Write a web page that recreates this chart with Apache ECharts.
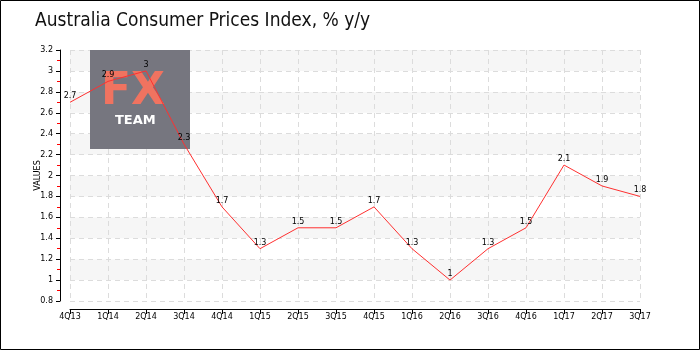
<!DOCTYPE html>
<html><head><meta charset="utf-8">
<script src="https://cdn.jsdelivr.net/npm/echarts@6/dist/echarts.min.js"></script>
<style>html,body{margin:0;padding:0;background:#fff}#c{width:700px;height:350px}</style>
</head><body><div id="c"></div>
<script>
const categories = ['4Q13','1Q14','2Q14','3Q14','4Q14','1Q15','2Q15','3Q15','4Q15','1Q16','2Q16','3Q16','4Q16','1Q17','2Q17','3Q17'];
const cpiValues = [2.7, 2.9, 3.0, 2.3, 1.7, 1.3, 1.5, 1.5, 1.7, 1.3, 1.0, 1.3, 1.5, 2.1, 1.9, 1.8];
const titleText = 'Australia Consumer Prices Index, % y/y';
const yAxisName = 'VALUES';

const chart = echarts.init(document.getElementById('c'), null, {renderer:'canvas'});
const F = 'DejaVu Sans';
chart.setOption({
  animation: false,
  backgroundColor: '#fff',
  title: {
    text: titleText, left: 30, top: 7,
    textStyle: {fontFamily: 'DejaVu Sans Condensed', fontWeight: 'normal', fontSize: 19, color: '#111'}
  },
  grid: {left: 70, right: 60, top: 50, bottom: 49, containLabel: false},
  graphic: [
    {type: 'rect', z: 100, silent: true, shape: {x: 0.5, y: 0.5, width: 699, height: 349},
     style: {fill: 'none', stroke: '#000', lineWidth: 1}},
    {type: 'rect', z: 1, silent: true, shape: {x: 90, y: 50, width: 100, height: 99},
     style: {fill: '#76767f'}},
    {type: 'text', z: 1, silent: true, left: 101, top: 71,
     style: {text: 'FX', fill: '#f07360', font: 'bold 44px "DejaVu Sans"'}},
    {type: 'text', z: 1, silent: true, left: 115, top: 114,
     style: {text: 'TEAM', fill: '#ffffff', font: 'bold 13px "DejaVu Sans"'}}
  ],
  xAxis: {
    type: 'category', data: categories, boundaryGap: false, offset: 8,
    axisLine: {lineStyle: {color: '#000', width: 1}},
    axisTick: {alignWithLabel: true, length: 5, lineStyle: {color: '#000'}},
    axisLabel: {fontFamily: F, fontSize: 8, color: '#000', margin: 4, interval: 0},
    splitLine: {show: true, lineStyle: {color: '#dcdcdc', type: [5, 4]}}
  },
  yAxis: {
    type: 'value', min: 0.8, max: 3.2, interval: 0.2, offset: 10,
    name: yAxisName, nameLocation: 'middle', nameGap: 18, nameRotate: 90, nameMoveOverlap: false,
    nameTextStyle: {fontFamily: F, fontSize: 8, color: '#000'},
    axisLine: {show: true, lineStyle: {color: '#000', width: 1}},
    axisTick: {show: true, length: 4, lineStyle: {color: '#000'}},
    minorTick: {show: true, splitNumber: 2, length: 3, lineStyle: {color: '#ff0000'}},
    axisLabel: {fontFamily: F, fontSize: 8, color: '#000', margin: 7,
      formatter: v => String(Math.round(v * 10) / 10)},
    splitLine: {show: true, lineStyle: {color: '#dcdcdc', type: [5, 4]}},
    splitArea: {show: true, areaStyle: {color: ['#ffffff', '#f6f6f6']}}
  },
  series: [{
    type: 'line', data: cpiValues, symbol: 'circle', symbolSize: 2, showSymbol: true, z: 3,
    itemStyle: {color: 'rgba(255,56,56,0)', borderWidth: 0},
    lineStyle: {color: '#ff3030', width: 1},
    label: {show: true, position: 'top', distance: 1, fontFamily: F, fontSize: 8, color: '#000'}
  }]
});
</script></body></html>
